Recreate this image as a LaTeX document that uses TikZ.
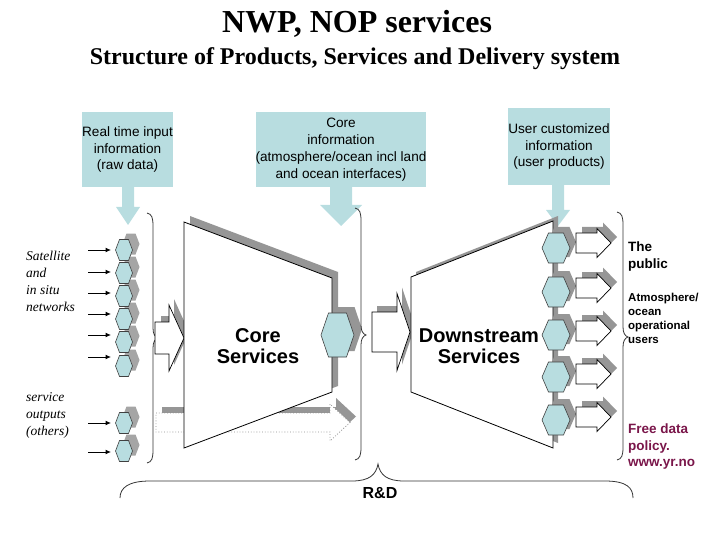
\documentclass[tikz,border=0pt]{standalone}
\usepackage{fontspec}
\setmainfont{Liberation Serif}
\setsansfont{Liberation Sans}
\usetikzlibrary{arrows.meta}
\definecolor{lb}{RGB}{184,221,224}
\definecolor{shd}{RGB}{150,150,150}
\definecolor{hshd}{RGB}{165,165,165}
\definecolor{plum}{RGB}{122,22,74}
\newcommand{\hexa}[5]{({#1-#3},{#2}) -- ({#1-#4},{#2-#5}) -- ({#1+#4},{#2-#5}) -- ({#1+#3},{#2}) -- ({#1+#4},{#2+#5}) -- ({#1-#4},{#2+#5}) -- cycle}
\newcommand{\farrow}[6]{({#1},{#4-#5}) -- ({#2},{#4-#5}) -- ({#2},{#4-#6}) -- ({#3},{#4}) -- ({#2},{#4+#6}) -- ({#2},{#4+#5}) -- ({#1},{#4+#5}) -- cycle}
\tikzset{
  infobox/.style={fill=lb, inner sep=0pt, align=center, font=\fontsize{13.6}{16.8}\selectfont\sffamily},
  shadowfill/.style={fill=shd},
  hexshadow/.style={fill=hshd},
  hexfill/.style={fill=lb, draw=black!75, line width=0.6pt},
  outarrow/.style={fill=white, draw=black, line width=0.7pt},
  brace/.style={draw=black!80, line width=0.8pt},
  smallarrow/.style={draw=black, line width=1pt, -{Latex[length=5.5pt,width=5pt]}},
  itext/.style={align=left, inner sep=0pt, font=\fontsize{13.5}{17}\selectfont\itshape},
}
\begin{document}
\begin{tikzpicture}[x=1pt,y=-1pt]
\useasboundingbox (0,0) rectangle (720,540);

% titles
\node[anchor=base, inner sep=0pt] (title) at (357,33) {\fontsize{32}{36}\selectfont\bfseries NWP, NOP services};
\node[anchor=base, inner sep=0pt] (subtitle) at (355,65) {\fontsize{24}{28}\selectfont\bfseries Structure of Products, Services and Delivery system};

% info boxes
\node[infobox, minimum width=91, minimum height=75] (b1) at (127.5,149.5) {Real time input\\information\\(raw data)};
\node[infobox, minimum width=162, minimum height=75] (b2) at (341,149.5) {Core\\information\\(atmosphere/ocean incl land\\and ocean interfaces)};
\node[infobox, minimum width=102, minimum height=77] (b3) at (559,146.5) {User customized\\information\\(user products)};
\fill[lb] (122,186) -- (122,207) -- (116,207) -- (128,225) -- (140,207) -- (134,207) -- (134,186) -- cycle;
\fill[lb] (330,186) -- (330,205) -- (320,205) -- (341,226) -- (362,205) -- (352,205) -- (352,186) -- cycle;
\fill[lb] (552,184) -- (552,210) -- (546,210) -- (558,226) -- (570,210) -- (564,210) -- (564,184) -- cycle;

% left texts
\node[itext, anchor=west] (sat) at (26,281) {Satellite\\and\\in situ\\networks};
\node[itext, anchor=west] (svc) at (26,415) {service\\outputs\\(others)};

% small hexagons
\foreach \y in {250,273,296,319,342,366,423,451} {
  \fill[hexshadow] \hexa{131}{\y-6}{8.5}{4.5}{10.5};
}
\foreach \y [count=\i] in {250,273,296,319,342,366,423,451} {
  \draw[hexfill] \hexa{124}{\y}{8.5}{4.5}{10.5};
}
\foreach \y [count=\i] in {250,272,293,314,335,357,423,452} {
  \coordinate (s\i) at (88,\y);
  \coordinate (t\i) at (111,\y);
  \draw[smallarrow] (s\i) -- (t\i);
}

% left brace
\draw[brace] (147,213) .. controls (152,214) and (153,218) .. (153,226) -- (153,328) .. controls (153,334) and (155,337) .. (158,338) .. controls (155,339) and (153,342) .. (153,348) -- (153,450) .. controls (153,458) and (152,462) .. (147,463);

% dotted arrow
\fill[shadowfill] \farrow{162}{336}{356}{416.5}{9.5}{18.5};
\draw[fill=white, draw=black!45, dotted, line width=0.8pt] \farrow{156}{330}{350}{422.5}{9.5}{18.5};

% left fat arrow
\fill[shadowfill] \farrow{161}{174}{189}{332}{16}{33};
\draw[outarrow] \farrow{155}{169}{184}{338}{16}{33};

% core trapezoid
\fill[shadowfill] (190,216) -- (338,272) -- (338,386) -- (190,442) -- cycle;
\draw[fill=white, draw=black, line width=0.8pt] (184,222) -- (332,278) -- (332,392) -- (184,448) -- cycle;
\node[align=center, inner sep=0pt, font=\fontsize{20}{21.5}\selectfont\sffamily\bfseries] (core) at (258,346) {Core\\Services};

% core hexagon
\fill[shadowfill] \hexa{345.5}{329}{16.5}{9}{22};
\draw[hexfill] \hexa{337.5}{335}{16.5}{9}{22};

% middle brace
\draw[brace] (355,208) .. controls (360,209) and (361,213) .. (361,221) -- (361,325) .. controls (361,331) and (363,334) .. (366,335) .. controls (363,336) and (361,339) .. (361,345) -- (361,447) .. controls (361,455) and (360,459) .. (355,460);

% second fat arrow
\fill[shadowfill] \farrow{377}{402}{415}{326}{20}{38.5};
\draw[outarrow] \farrow{372}{397}{410}{332}{20}{38.5};

% downstream trapezoid
\fill[shadowfill] (416,272) -- (558,216) -- (558,443) -- (416,387) -- cycle;
\draw[fill=white, draw=black, line width=0.8pt] (411,277) -- (553,221) -- (553,448) -- (411,392) -- cycle;
\node[align=center, inner sep=0pt, font=\fontsize{20}{21.5}\selectfont\sffamily\bfseries] (down) at (479,346) {Downstream\\Services};

% right hexagons and arrows
\foreach \y in {248,292,335,377,420} {
  \fill[shadowfill] \hexa{562}{\y-6}{14}{7.5}{15};
}
\foreach \y in {248,292,335,377,420} {
  \draw[hexfill] \hexa{556}{\y}{14}{7.5}{15};
}
\foreach \y in {243,288,331,374,417} {
  \fill[shadowfill] \farrow{582}{603}{617}{\y-6}{10}{14.5};
  \draw[outarrow] \farrow{576}{597}{611}{\y}{10}{14.5};
}

% right brace
\draw[brace] (617,212) .. controls (622,213) and (623,217) .. (623,225) -- (623,327) .. controls (623,333) and (625,336) .. (628,337) .. controls (625,338) and (623,341) .. (623,347) -- (623,447) .. controls (623,455) and (622,459) .. (617,460);

% right texts
\node[anchor=west, align=left, inner sep=0pt, font=\fontsize{13.5}{17}\selectfont\sffamily\bfseries] (pub) at (628,256.5) {The\\public};
\node[anchor=west, align=left, inner sep=0pt, font=\fontsize{11.5}{14}\selectfont\sffamily\bfseries] (atm) at (628,318.5) {Atmosphere/\\ocean\\operational\\users};
\node[anchor=west, align=left, inner sep=0pt, text=plum, font=\fontsize{13.5}{16.5}\selectfont\sffamily\bfseries] (free) at (628,447) {Free data\\policy.\\www.yr.no};

% R&D brace
\draw[brace] (120,498) .. controls (120,488) and (128,481) .. (150,481) -- (352,481) .. controls (369,481) and (376,475) .. (378,464) .. controls (380,475) and (387,481) .. (404,481) -- (605,481) .. controls (627,481) and (633,488) .. (633,498);
\node[inner sep=0pt, font=\fontsize{16}{18}\selectfont\sffamily\bfseries] (rd) at (380,493) {R\&D};
\end{tikzpicture}
\end{document}
